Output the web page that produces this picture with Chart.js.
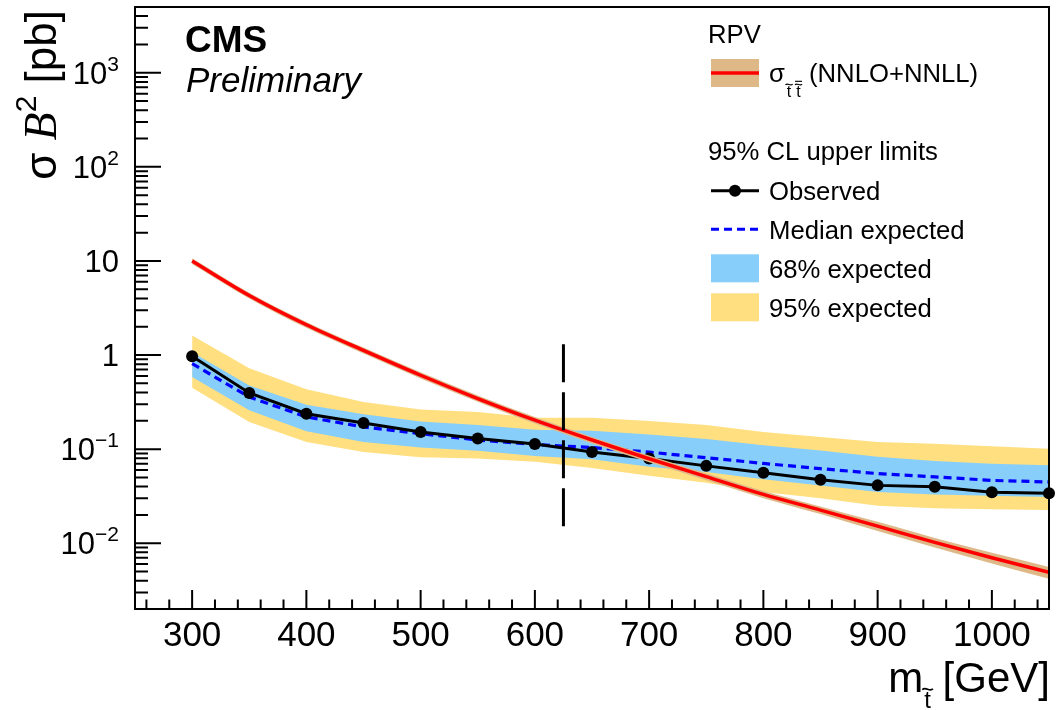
<!DOCTYPE html>
<html>
<head>
<meta charset="utf-8">
<script src="https://cdn.jsdelivr.net/npm/chart.js@4.4.0/dist/chart.umd.min.js"></script>
<style>
  html, body { margin: 0; padding: 0; background: #fff; }
  #wrap { width: 1062px; height: 710px; position: relative; }
</style>
</head>
<body>
<div id="wrap"><canvas id="limit-chart"></canvas></div>
<script>
// Stop mass points (GeV)
const masses = [300, 350, 400, 450, 500, 550, 600, 650, 700, 750, 800, 850, 900, 950, 1000, 1050];

// 95% CL upper limits on sigma*B^2 (pb)
const observed = [0.97, 0.395, 0.238, 0.190, 0.152, 0.130, 0.1135, 0.093, 0.0797, 0.0664, 0.0560, 0.0472, 0.0412, 0.0398, 0.0348, 0.0340];
const expected = [0.81, 0.358, 0.220, 0.172, 0.146, 0.125, 0.112, 0.104, 0.093, 0.0812, 0.0705, 0.0620, 0.0550, 0.0508, 0.0465, 0.0448];
const exp68Up   = [1.07, 0.476, 0.297, 0.235, 0.197, 0.180, 0.161, 0.157, 0.143, 0.128, 0.110, 0.097, 0.083, 0.075, 0.070, 0.0675];
const exp68Down = [0.583, 0.259, 0.155, 0.119, 0.104, 0.096, 0.0843, 0.078, 0.065, 0.057, 0.048, 0.041, 0.035, 0.033, 0.032, 0.031];
const exp95Up   = [1.61, 0.726, 0.432, 0.316, 0.264, 0.248, 0.216, 0.216, 0.199, 0.180, 0.152, 0.135, 0.119, 0.114, 0.107, 0.101];
const exp95Down = [0.450, 0.194, 0.119, 0.0935, 0.082, 0.0797, 0.0733, 0.063, 0.052, 0.044, 0.035, 0.030, 0.025, 0.0235, 0.023, 0.0225];

// Theory cross section (NNLO+NNLL) and its uncertainty band
const theory     = [10.0, 4.3, 2.1, 1.12, 0.61, 0.345, 0.203, 0.125, 0.079, 0.051, 0.0330, 0.0225, 0.0152, 0.0102, 0.0070, 0.0049];
const theoryUp   = [10.7, 4.6, 2.25, 1.20, 0.655, 0.371, 0.219, 0.135, 0.0855, 0.0553, 0.0359, 0.0246, 0.0169, 0.0114, 0.0079, 0.0056];
const theoryDown = [9.3, 4.0, 1.95, 1.04, 0.565, 0.319, 0.187, 0.115, 0.0725, 0.0467, 0.0301, 0.0204, 0.0135, 0.0090, 0.0061, 0.0042];

// Vertical dashed marker
const markerMass = [625, 625];
const markerY = [1.3, 0.015];

// Axis tick labels
const xTickLabels = [300, 400, 500, 600, 700, 800, 900, 1000];
const yTickValues = [0.01, 0.1, 1, 10, 100, 1000];
const yTickBase = ['10', '10', '1', '10', '10', '10'];
const yTickExp = ['\u22122', '\u22121', '', '', '2', '3'];

const FONT = '"Liberation Sans", Arial, Helvetica, sans-serif';

function toXY(xs, ys) {
    return xs.map((m, i) => ({ x: m, y: ys[i] }));
}

function band(values, order) {
    return { data: toXY(masses, values), borderWidth: 0, pointRadius: 0, fill: false, order: order };
}

// draw a small "t" with tilde (and optional bar) above it
function drawTildeT(ctx, x, y, size, bar) {
    ctx.font = size + 'px ' + FONT;
    const w = ctx.measureText('t').width;
    ctx.fillText('t', x, y);
    const cx = x + w / 2;
    const top = y - size * 0.8;
    ctx.save();
    ctx.lineWidth = Math.max(1, size * 0.07);
    ctx.strokeStyle = ctx.fillStyle;
    ctx.beginPath();
    const tw = size * 0.22;
    ctx.moveTo(cx - tw, top + size * 0.04);
    ctx.bezierCurveTo(cx - tw * 0.4, top - size * 0.12, cx + tw * 0.4, top + size * 0.16, cx + tw, top);
    ctx.stroke();
    if (bar) {
        ctx.beginPath();
        ctx.moveTo(cx - tw, top - size * 0.18);
        ctx.lineTo(cx + tw, top - size * 0.18);
        ctx.stroke();
    }
    ctx.restore();
    return w;
}

function text(ctx, str, font, x, y, align) {
    ctx.font = font;
    ctx.textAlign = align || 'left';
    ctx.fillText(str, x, y);
    ctx.textAlign = 'left';
    return ctx.measureText(str).width;
}

const rootDecor = {
    id: 'rootDecor',
    afterDraw(chart) {
        const { ctx, chartArea: a, scales: { x, y } } = chart;
        ctx.save();
        ctx.fillStyle = '#000';
        ctx.strokeStyle = '#000';
        ctx.lineWidth = 2;
        ctx.textBaseline = 'alphabetic';

        // inward ticks
        ctx.beginPath();
        for (let m = 260; m <= 1040; m += 20) {
            const px = x.getPixelForValue(m);
            const len = m % 100 === 0 ? 19 : 9.5;
            ctx.moveTo(px, a.bottom);
            ctx.lineTo(px, a.bottom - len);
        }
        for (let e = -3; e <= 3; e++) {
            for (let k = 1; k <= 9; k++) {
                const v = k * Math.pow(10, e);
                if (v < y.min || v > y.max) continue;
                const py = y.getPixelForValue(v);
                const len = k === 1 ? 26 : 13;
                ctx.moveTo(a.left, py);
                ctx.lineTo(a.left + len, py);
            }
        }
        ctx.stroke();
        ctx.strokeRect(a.left, a.top, a.right - a.left, a.bottom - a.top);

        // x tick labels
        xTickLabels.forEach(m => {
            text(ctx, String(m), '35px ' + FONT, x.getPixelForValue(m), 646, 'center');
        });

        // y tick labels with exponents
        yTickValues.forEach((v, i) => {
            const py = y.getPixelForValue(v) + 11;
            const right = 119;
            ctx.font = '21px ' + FONT;
            const ew = yTickExp[i] ? ctx.measureText(yTickExp[i]).width : 0;
            if (yTickExp[i]) text(ctx, yTickExp[i], '21px ' + FONT, right - ew, py - 13);
            text(ctx, yTickBase[i], '31px ' + FONT, right - ew, py, 'right');
        });

        // x axis title: m_{t~} [GeV]
        ctx.font = '42px ' + FONT;
        const gevW = ctx.measureText(' [GeV]').width;
        const mW = ctx.measureText('m').width;
        ctx.font = '24px ' + FONT;
        const tW = ctx.measureText('t').width;
        let tx = 1049 - gevW - tW - mW;
        text(ctx, 'm', '42px ' + FONT, tx, 692);
        drawTildeT(ctx, tx + mW + 1, 708, 24, false);
        text(ctx, ' [GeV]', '42px ' + FONT, tx + mW + tW + 1, 692);

        // y axis title: sigma B^2 [pb], rotated
        ctx.save();
        ctx.translate(56, 10);
        ctx.rotate(-Math.PI / 2);
        const runs = [
            ['\u03c3 ', '44px ' + FONT, 0],
            ['B', 'italic 46px "Liberation Serif", "Times New Roman", serif', 0],
            ['2', '30px ' + FONT, -20],
            [' [pb]', '44px ' + FONT, 0]
        ];
        let total = 0;
        runs.forEach(r => { ctx.font = r[1]; total += ctx.measureText(r[0]).width; });
        let u = -total;
        runs.forEach(r => { u += text(ctx, r[0], r[1], u, r[2]); });
        ctx.restore();

        // CMS label
        text(ctx, 'CMS', 'bold 37px ' + FONT, 185, 52);
        text(ctx, 'Preliminary', 'italic 35px ' + FONT, 186, 92);

        // legend
        const lf = '25.7px ' + FONT;
        const sx = 711, sw = 48, tx0 = 769;
        text(ctx, 'RPV', lf, 708, 43);
        // theory entry
        ctx.fillStyle = '#deb887';
        ctx.fillRect(sx, 59, sw, 28);
        ctx.strokeStyle = '#ff0000';
        ctx.lineWidth = 3.5;
        ctx.beginPath(); ctx.moveTo(sx, 73); ctx.lineTo(sx + sw, 73); ctx.stroke();
        ctx.fillStyle = '#000';
        let lx = tx0 + text(ctx, '\u03c3', lf, tx0, 82);
        lx += drawTildeT(ctx, lx + 2, 97, 16, false) + 5;
        drawTildeT(ctx, lx + 2, 97, 16, true);
        text(ctx, '(NNLO+NNLL)', lf, 809, 82);

        text(ctx, '95% CL upper limits', lf, 708, 160);
        // observed
        ctx.strokeStyle = '#000';
        ctx.lineWidth = 3;
        ctx.beginPath(); ctx.moveTo(sx, 190.7); ctx.lineTo(sx + sw, 190.7); ctx.stroke();
        ctx.beginPath(); ctx.arc(sx + sw / 2, 190.7, 6, 0, Math.PI * 2); ctx.fill();
        text(ctx, 'Observed', lf, tx0, 200);
        // median expected
        ctx.strokeStyle = '#0000ff';
        ctx.setLineDash([8, 5]);
        ctx.beginPath(); ctx.moveTo(sx, 229.3); ctx.lineTo(sx + sw, 229.3); ctx.stroke();
        ctx.setLineDash([]);
        text(ctx, 'Median expected', lf, tx0, 238.6);
        // bands
        ctx.fillStyle = '#87cefa';
        ctx.fillRect(sx, 254.3, sw, 28);
        ctx.fillStyle = '#ffdf7f';
        ctx.fillRect(sx, 293.3, sw, 28);
        ctx.fillStyle = '#000';
        text(ctx, '68% expected', lf, tx0, 277.6);
        text(ctx, '95% expected', lf, tx0, 316.6);

        ctx.restore();
    }
};

function initLimitChart() {
    const canvas = document.getElementById('limit-chart');
    const ctx = canvas.getContext('2d');

    // smooth theory curve (monotone interpolation in pixel space)
    const smooth = { cubicInterpolationMode: 'monotone' };

    const datasets = [
        // 95% expected band
        Object.assign(band(exp95Up, 10), { fill: '+1', backgroundColor: '#ffdf7f' }),
        band(exp95Down, 10),
        // 68% expected band
        Object.assign(band(exp68Up, 9), { fill: '+1', backgroundColor: '#87cefa' }),
        band(exp68Down, 9),
        // median expected
        {
            data: toXY(masses, expected),
            borderColor: '#0000ff',
            borderWidth: 3.2,
            borderDash: [8, 5],
            pointRadius: 0,
            fill: false,
            order: 8
        },
        // observed
        {
            data: toXY(masses, observed),
            borderColor: '#000',
            backgroundColor: '#000',
            borderWidth: 3,
            pointRadius: 6,
            pointBorderWidth: 0,
            pointBackgroundColor: '#000',
            fill: false,
            clip: false,
            order: 7
        },
        // theory band and central value
        Object.assign(band(theoryUp, 6), smooth, { fill: '+1', backgroundColor: '#deb887' }),
        Object.assign(band(theoryDown, 6), smooth),
        Object.assign({
            data: toXY(masses, theory),
            borderColor: '#ff0000',
            borderWidth: 3.5,
            pointRadius: 0,
            fill: false,
            order: 5
        }, smooth),
        // vertical marker
        {
            data: toXY(markerMass, markerY),
            borderColor: '#000',
            borderWidth: 3,
            borderDash: [38, 10],
            pointRadius: 0,
            fill: false,
            order: 4
        }
    ];

    window.limitChart = new Chart(ctx, {
        type: 'line',
        data: { datasets: datasets },
        options: {
            responsive: true,
            maintainAspectRatio: false,
            animation: false,
            layout: { padding: { left: 135, top: 7, right: 13, bottom: 101 } },
            elements: { line: { tension: 0 } },
            plugins: {
                legend: { display: false },
                tooltip: { enabled: false }
            },
            scales: {
                x: { type: 'linear', min: 250, max: 1050, display: false },
                y: { type: 'logarithmic', min: 0.002, max: 5000, display: false }
            }
        },
        plugins: [rootDecor]
    });
}

document.addEventListener('DOMContentLoaded', initLimitChart);
</script>
</body>
</html>
